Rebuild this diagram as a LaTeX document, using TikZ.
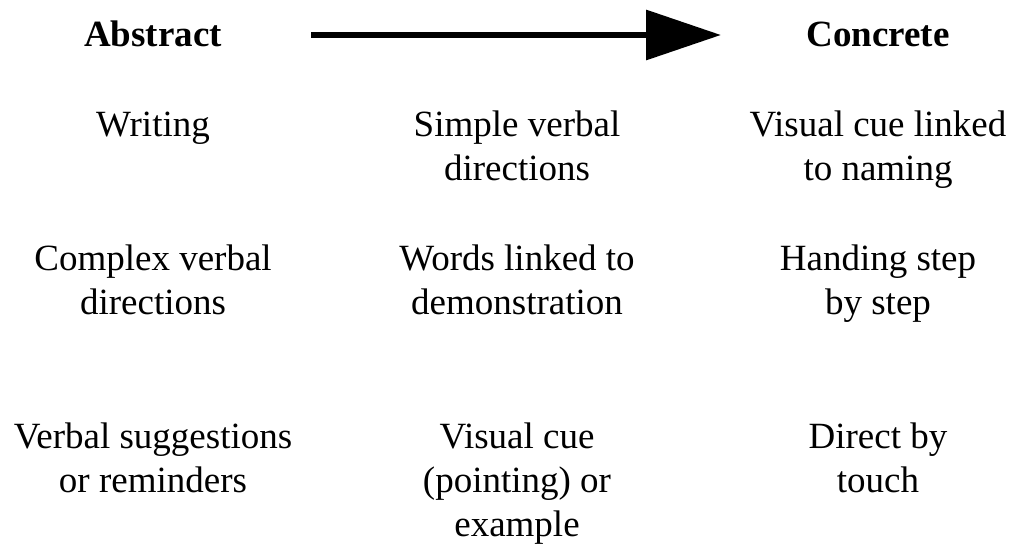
\documentclass[tikz,border=0pt]{standalone}
\usepackage{fontspec}
\setmainfont{Liberation Serif}
\usetikzlibrary{arrows.meta}
\newcommand{\cellstack}[1]{\begin{tabular}[t]{@{}c@{}}#1\end{tabular}}
\begin{document}
\begin{tikzpicture}[x=1pt,y=-1pt,
  label/.style={inner sep=0pt,anchor=base,font=\fontsize{37}{44}\selectfont},
  heading/.style={label,font=\fontsize{37}{44}\selectfont\bfseries},
  scale arrow/.style={line width=6.5pt,-{Triangle[length=75pt,width=49pt]}}]
  \useasboundingbox (0,0) rectangle (1012,548);
  % column headings and the direction arrow
  \node[heading] (abstract) at (153,47) {Abstract};
  \node[heading] (concrete) at (878,47) {Concrete};
  \coordinate (arrowstart) at (311,35);
  \coordinate (arrowend) at (721,35);
  \draw[scale arrow] (arrowstart) -- (arrowend);
  % first row
  \node[label] (writing) at (153,137) {\cellstack{Writing}};
  \node[label] (simple) at (517,137) {\cellstack{Simple verbal\\directions}};
  \node[label] (visualname) at (878,137) {\cellstack{Visual cue linked\\to naming}};
  % second row
  \node[label] (complex) at (153,270) {\cellstack{Complex verbal\\directions}};
  \node[label] (words) at (517,270) {\cellstack{Words linked to\\demonstration}};
  \node[label] (handing) at (878,270) {\cellstack{Handing step\\by step}};
  % third row
  \node[label] (suggest) at (153,448) {\cellstack{Verbal suggestions\\or reminders}};
  \node[label] (pointing) at (517,448) {\cellstack{Visual cue\\(pointing) or\\example}};
  \node[label] (touch) at (878,448) {\cellstack{Direct by\\touch}};
\end{tikzpicture}
\end{document}
